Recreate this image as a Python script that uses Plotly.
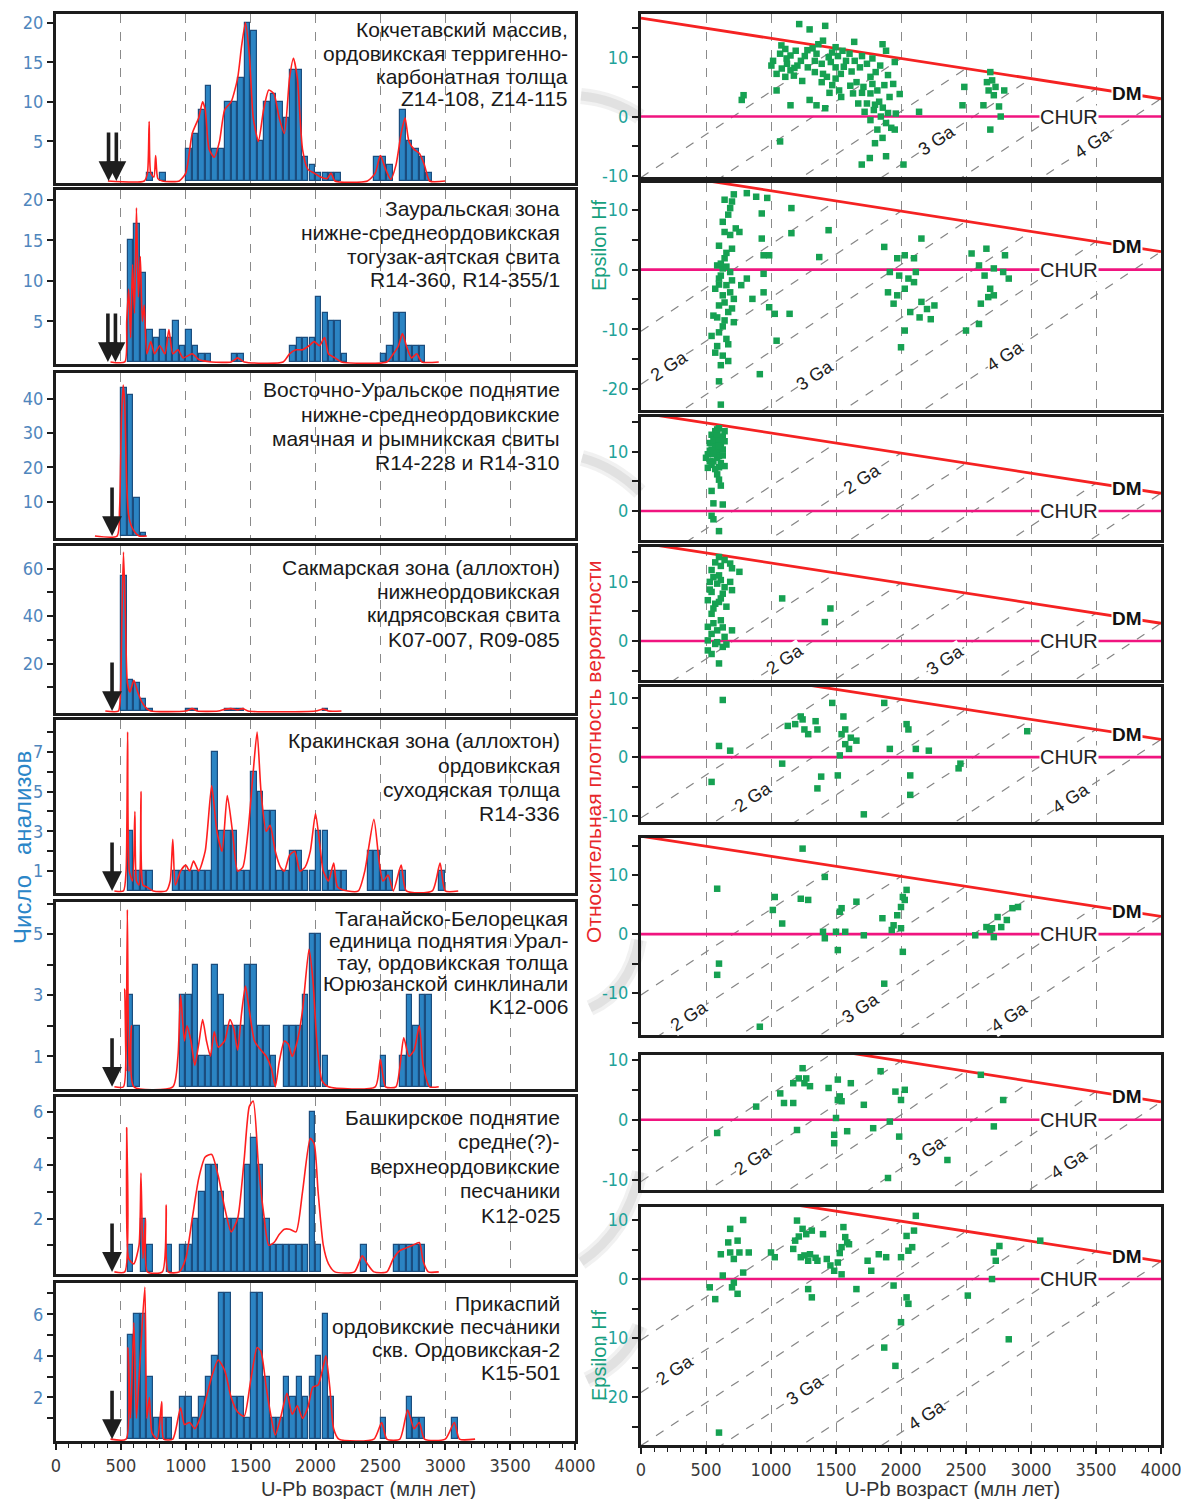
import plotly.graph_objects as go

W, H = 1181, 1499

# ---------------- U-Pb histograms (50 Ma bins) and probability-density curves ----------------
kok_bins = [700, 800, 1000, 1050, 1100, 1150, 1200, 1250, 1300, 1350, 1400, 1450, 1500, 1550, 1600, 1650,
            1700, 1750, 1800, 1850, 1900, 1950, 2000, 2050, 2100, 2150, 2450, 2500, 2550, 2650, 2700, 2750,
            2800, 2850]
kok_counts = [1, 1, 4, 6, 9, 12, 4, 4, 10, 10, 13, 20, 19, 5, 10, 11, 10, 8, 14, 14, 3, 2, 1, 1, 1, 1,
              3, 3, 2, 9, 5, 4, 3, 1]
kok_pdp_age = [400, 680, 705, 718, 730, 755, 768, 785, 820, 950, 1000, 1050, 1100, 1130, 1150, 1180, 1220,
               1260, 1300, 1350, 1400, 1430, 1460, 1490, 1520, 1560, 1600, 1640, 1680, 1720, 1760, 1800,
               1830, 1860, 1900, 1940, 1990, 2040, 2090, 2120, 2150, 2400, 2460, 2500, 2540, 2580, 2620,
               2660, 2690, 2720, 2760, 2800, 2840, 2880, 3000]
kok_pdp = [0, 0, 1, 7.5, 1, 0.5, 3.2, 0.3, 0, 0, 1, 6, 8, 10, 9, 4, 3, 5, 9, 10, 13, 17, 20, 16, 8, 5, 9,
           11.5, 11, 8, 6, 13, 15.5, 13, 4, 1.5, 1, 0.5, 0.3, 1, 0, 0, 1, 3.2, 1.5, 0.2, 2, 6, 8, 5, 4,
           3.5, 2, 0, 0]

zaur_bins = [550, 600, 650, 700, 750, 800, 850, 900, 950, 1000, 1050, 1100, 1150, 1350, 1400, 1800, 1850,
             1900, 1950, 2000, 2050, 2100, 2150, 2200, 2500, 2550, 2600, 2650, 2700, 2750, 2800]
zaur_counts = [15, 17, 11, 4, 3, 4, 3, 5, 2, 4, 2, 1, 1, 1, 1, 2, 3, 3, 3, 8, 6, 5, 5, 1, 1, 2, 6, 6, 2,
               2, 2]
zaur_pdp_age = [420, 530, 545, 560, 575, 590, 605, 620, 635, 650, 665, 680, 700, 730, 760, 800, 840, 870,
                900, 940, 980, 1050, 1100, 1200, 1350, 1400, 1450, 1750, 1800, 1850, 1900, 1950, 1990,
                2030, 2070, 2100, 2150, 2200, 2550, 2600, 2640, 2670, 2700, 2740, 2780, 2820, 2950]
zaur_pdp = [0, 0, 5, 9, 3, 12, 6, 19, 8, 13, 5, 7, 1, 2.5, 1, 2, 1, 4, 1, 1.5, 0.5, 1, 0.3, 0, 0, 0.5, 0,
            0, 1, 1.5, 1.5, 2, 2.5, 2, 3, 1, 0.5, 0, 0, 1, 2, 3.5, 2, 0.5, 1, 0, 0]

vost_bins = [500, 550, 600, 650]
vost_counts = [43, 41, 11, 1]
vost_pdp_age = [300, 470, 490, 505, 518, 530, 545, 560, 580, 610, 640, 700]
vost_pdp = [0, 0, 8, 35, 44, 38, 15, 6, 3, 1, 0, 0]

sakm_bins = [500, 550, 600, 650, 700, 1000, 1050, 1300, 1350, 1400, 2050]
sakm_counts = [57, 13, 12, 5, 1, 1, 1, 1, 1, 1, 1]
sakm_pdp_age = [380, 480, 495, 508, 520, 535, 550, 570, 600, 630, 660, 700, 730, 1000, 1050, 1090, 1250,
                1300, 1350, 1400, 1440, 1480, 2000, 2060, 2100, 2200]
sakm_pdp = [0, 0, 5, 40, 67, 40, 12, 8, 13, 8, 4, 1, 0, 0, 1, 0, 0, 0.7, 1, 0.5, 1, 0, 0, 0.8, 0, 0]

krak_bins = [550, 600, 650, 700, 900, 950, 1000, 1050, 1100, 1150, 1200, 1250, 1300, 1350, 1400, 1450,
             1500, 1550, 1600, 1650, 1700, 1750, 1800, 1850, 1900, 1950, 2000, 2050, 2100, 2150, 2200,
             2400, 2450, 2500, 2550, 2650, 2950]
krak_counts = [3, 1, 1, 1, 1, 1, 1, 1, 1, 1, 7, 3, 3, 3, 1, 1, 6, 5, 4, 4, 1, 1, 2, 2, 1, 1, 3, 3, 1, 1,
               1, 2, 2, 1, 1, 1, 1]
krak_pdp_age = [450, 520, 540, 552, 565, 590, 608, 620, 640, 655, 670, 700, 750, 850, 880, 900, 920, 960,
                1000, 1030, 1060, 1100, 1150, 1200, 1240, 1280, 1320, 1360, 1400, 1440, 1480, 1520, 1550,
                1580, 1620, 1650, 1690, 1730, 1760, 1800, 1840, 1880, 1920, 1960, 2000, 2030, 2060, 2100,
                2140, 2170, 2250, 2330, 2380, 2450, 2490, 2520, 2560, 2600, 2660, 2700, 2900, 2960, 3000,
                3100]
krak_pdp = [0, 0, 1, 8, 1, 0.5, 4, 0.5, 0.3, 5, 0.3, 0.2, 0, 0, 0.5, 2.6, 0.3, 1, 1.3, 1, 1.5, 1, 2, 5.3,
            3, 2, 4.8, 3, 1, 1.2, 3, 6, 8, 5, 3, 3.3, 2, 1.2, 1, 1.8, 2, 1, 1.2, 2, 3.9, 2.5, 1, 0.5, 1.4,
            0.2, 0, 0, 1, 3.6, 1.5, 0.5, 0.8, 0, 1.3, 0, 0, 1.4, 0, 0]

tag_bins = [550, 600, 950, 1000, 1050, 1100, 1150, 1200, 1250, 1300, 1350, 1400, 1450, 1500, 1550, 1600,
            1650, 1750, 1800, 1850, 1900, 1950, 2000, 2050, 2500, 2650, 2700, 2750, 2800, 2850]
tag_counts = [3, 2, 3, 3, 4, 1, 1, 4, 3, 2, 2, 2, 4, 4, 2, 2, 1, 2, 2, 2, 3, 5, 5, 1, 1, 1, 3, 2, 3, 3]
tag_pdp_age = [450, 520, 530, 540, 550, 562, 580, 600, 900, 940, 960, 990, 1010, 1040, 1070, 1100, 1130,
               1160, 1190, 1220, 1250, 1300, 1340, 1370, 1400, 1430, 1460, 1490, 1530, 1580, 1620, 1660,
               1690, 1720, 1760, 1790, 1820, 1860, 1900, 1950, 1980, 2010, 2050, 2100, 2460, 2500, 2540,
               2620, 2680, 2720, 2760, 2800, 2830, 2880, 2950]
tag_pdp = [0, 0, 3.2, 0.5, 5.8, 0.5, 2, 0, 0, 1, 3, 1.5, 2, 1.5, 0.7, 1.4, 2.2, 1.5, 1, 1.8, 1.3, 1.5,
           2.2, 1.9, 1.2, 2.4, 3.3, 2.5, 1.5, 1.2, 1, 0.6, 0, 0.8, 1.5, 1.4, 1, 1.5, 2.5, 4.5, 3.5, 1.5,
           0.2, 0, 0, 0.9, 0, 0, 1.6, 1, 1.2, 2, 0.7, 0, 0]

bash_bins = [550, 650, 700, 850, 950, 1000, 1050, 1100, 1150, 1200, 1250, 1300, 1350, 1400, 1450, 1500,
             1550, 1600, 1650, 1700, 1750, 1800, 1850, 1900, 1950, 2000, 2350, 2600, 2650, 2700, 2750, 2800]
bash_counts = [1, 2, 1, 1, 1, 1, 2, 3, 4, 4, 3, 2, 2, 2, 4, 5, 4, 2, 1, 1, 1, 1, 1, 1, 6, 1, 1, 1, 1, 1,
               1, 1]
bash_pdp_age = [450, 530, 545, 560, 600, 640, 655, 670, 690, 705, 820, 850, 865, 950, 1000, 1050, 1100,
                1150, 1200, 1250, 1300, 1350, 1400, 1450, 1490, 1520, 1560, 1600, 1640, 1680, 1720, 1760,
                1800, 1850, 1900, 1960, 1990, 2020, 2060, 2100, 2150, 2300, 2360, 2400, 2450, 2550, 2600,
                2650, 2700, 2750, 2800, 2830, 2870, 2950]
bash_pdp = [0, 0, 5.4, 0.5, 0.3, 1, 3.7, 0.5, 2, 0, 0, 2.5, 0, 0, 0.5, 2, 3.5, 4.3, 4.4, 3.6, 2.4, 1.5,
            2, 4.2, 6.2, 6.4, 4, 2.2, 1, 1.1, 1.4, 1.6, 1.6, 1.5, 3, 5, 4.8, 3, 1, 0.3, 0, 0, 0.6, 0.3, 0,
            0, 0.5, 0.8, 0.9, 1, 1.1, 0.4, 0, 0]

casp_bins = [550, 600, 650, 700, 750, 800, 850, 950, 1000, 1050, 1100, 1150, 1200, 1250, 1300, 1350, 1400,
             1450, 1500, 1550, 1600, 1650, 1700, 1750, 1800, 1850, 1900, 1950, 2000, 2050, 2100, 2500,
             2700, 2750, 2800, 3050]
casp_counts = [5, 6, 6, 3, 1, 1, 1, 2, 2, 1, 2, 3, 4, 7, 7, 2, 2, 1, 7, 7, 3, 1, 1, 3, 2, 3, 2, 3, 4, 6,
               2, 1, 2, 1, 1, 1]
casp_pdp_age = [420, 540, 555, 575, 600, 620, 650, 685, 700, 720, 740, 780, 815, 830, 900, 960, 990, 1030,
                1070, 1110, 1150, 1200, 1250, 1300, 1350, 1400, 1450, 1500, 1550, 1580, 1620, 1660, 1690,
                1730, 1780, 1820, 1860, 1900, 1940, 1980, 2020, 2060, 2080, 2110, 2140, 2180, 2450, 2510,
                2550, 2650, 2710, 2760, 2800, 2840, 3000, 3070, 3110, 3230]
casp_pdp = [0, 0, 4.4, 1, 5.6, 1, 4, 7.3, 1, 2, 0.3, 0, 1.8, 0, 0, 1.5, 0.7, 0.8, 0.5, 1, 1.8, 3, 3.8,
            3.3, 2, 1.3, 1.1, 2.8, 4.4, 4.2, 2.5, 1, 0.2, 1, 2.2, 1.2, 1.6, 1, 1.5, 2.5, 2.6, 3.5, 4, 2.5,
            0.5, 0, 0, 0.8, 0, 0, 1.4, 0.5, 0.8, 0, 0, 0.8, 0, 0]

# depositional-age arrows (Ma)
kok_arrows = [405, 465]
zaur_arrows = [400, 458]
single_arrow = [432]

# ---------------- Lu-Hf: (U-Pb age, epsilon Hf(t)) ----------------
kok_hf = [(1217, 15.6), (1297, 14.7), (1417, 15.3), (789, 3.6), (775, 2.8), (1043, 4.4), (1070, -4.2),
          (1150, 1.9), (1297, 2.8), (1350, 1.9), (1417, 1.4), (1016, 9.4), (1070, 10.6), (1110, 11.4),
          (1150, 10.3), (1190, 11.1), (1123, 8.9), (1083, 8.1), (1043, 7.2), (1150, 7.8), (1203, 8.6),
          (1230, 9.4), (1176, 6.9), (1110, 6.7), (1003, 8.6), (1364, 12.2), (1497, 11.7), (1550, 11.1),
          (1337, 9.4), (1390, 8.9), (1444, 10), (1497, 8.3), (1337, 7.5), (1430, 6.7), (1471, 5.3),
          (1524, 4.4), (1390, 5.8), (1497, 6.4), (1577, 9.4), (1283, 8.3), (1350, 10.6), (1470, 10.8),
          (1537, 7.2), (1604, 10.6), (1644, 9.4), (1684, 8.3), (1738, 8.9), (1765, 6.7), (1805, 7.5),
          (1858, 12.2), (1885, 11.1), (1952, 9.2), (1658, 5.8), (1711, 5), (1765, 3.9), (1818, 4.4),
          (1872, 5.3), (1738, 2.2), (1791, 1.1), (1845, 0), (1885, -1.1), (1765, -0.6), (1818, -2.2),
          (1925, -1.9), (1858, -3.6), (1952, -2.2), (1885, -6.7), (1698, -8.1), (2019, -8.1),
          (1631, 3.9), (1671, 2.2), (1912, 3.3), (1832, 2.5), (2139, 0.8), (1260, 10.2), (1320, 11.5),
          (1400, 12.8), (1460, 9.2), (1515, 10.2), (1560, 8.4), (1620, 7.6), (1700, 10.2), (1780, 9.8),
          (1840, 8.6), (1900, 7), (1780, 5.5), (1700, 4), (1860, 1.5), (1800, -4.5), (1760, -7),
          (1080, 12), (1120, 9.8), (1180, 8.2), (1240, 6), (1280, 11.2), (1400, 7.2), (1450, 4),
          (1540, 3.3), (1610, 5.2), (1940, 5.5), (1990, 3.8), (1900, 0.6), (1720, 0.8), (1800, 2),
          (1960, 0.5), (1640, 12.6), (2487, 5), (2473, 1.9), (2687, 7.5), (2701, 6.1), (2674, 4.4),
          (2727, 5), (2794, 4.4), (2634, 1.9), (2754, 1.7), (2767, 0), (2687, -2.2), (2661, 5.8),
          (2714, 3.6)]

zaur_hf = [(643, 11.7), (700, 11.4), (671, 9.2), (629, 8), (643, 6.3), (686, 5.8), (729, 6.9), (757, 6.3),
           (700, 3.5), (643, 1.9), (586, 0.7), (629, 0.2), (686, -0.4), (600, -1.5), (657, -2.6),
           (571, -3.2), (629, -4.3), (686, -3.8), (600, -6), (671, -7.1), (643, -8.5), (714, -8.8),
           (600, -10.5), (657, -11.6), (586, -12.8), (629, -14.4), (671, -15.3), (600, -18.7),
           (614, -22.6), (571, -13.9), (543, -11.1), (557, -7.7), (714, -4.9), (771, -2.6), (814, -1.5),
           (614, 1), (657, 0.5), (600, -2.5), (643, -5.5), (586, -8), (629, -9.5), (700, -6.5),
           (671, -12.5), (614, -16), (657, 2.8), (600, 4), (686, 10.3), (714, 12.6), (614, -1),
           (700, -1.8), (814, 12.8), (886, 12.2), (971, 12), (929, 9.4), (1157, 10.3), (929, 5.2),
           (1157, 6.1), (943, 2.4), (943, -0.7), (857, -4.9), (943, -3.8), (986, -6.3), (1029, -7.4),
           (1143, -7.4), (1043, -11.9), (914, -17.5), (986, 2.4), (1443, 6.6), (1371, 2.1), (1871, 3.8),
           (1971, 1.9), (2029, 2.4), (2100, 1.9), (2157, 5.2), (1914, -0.4), (1986, -1), (2057, -1.5),
           (2114, -0.4), (1900, -3.8), (1971, -4.3), (2029, -3.2), (2100, -2.1), (1943, -5.7),
           (2157, -5.4), (2200, -6.6), (2257, -6), (2143, -8), (2229, -8.3), (2029, -10.2), (2000, -13),
           (2071, -7.1), (2543, 2.7), (2657, 3.5), (2800, 2.4), (2600, 0.7), (2643, -1), (2714, 0.2),
           (2786, -0.4), (2829, -1.5), (2686, -3.2), (2671, -4.6), (2614, -5.7), (2600, -9.1),
           (2500, -10.2), (2714, -4.3)]

vost_hf = [(600, 14), (543, 12.9), (586, 12.4), (629, 12.6), (529, 11.5), (571, 11.2), (614, 11.5),
           (543, 10.4), (586, 10.1), (629, 10.4), (514, 9.6), (600, 9.3), (557, 8.4), (614, 8.1),
           (514, 7.3), (643, 7.6), (586, 6.2), (543, 3.4), (629, 1.1), (543, -0.8), (557, -1.4),
           (600, -3.4), (571, 13.5), (643, 13.5), (529, 8.4), (600, 5.3), (557, 12), (600, 12.2),
           (571, 10.8), (614, 10.9), (529, 10.2), (586, 9), (629, 9.4), (557, 9.6), (600, 11), (643, 11.8),
           (586, 13), (543, 7.8), (600, 7.4), (571, 7.1), (614, 4.3), (557, 1.3), (586, 13.8), (500, 9)]

sakm_hf = [(600, 14.2), (643, 13.7), (686, 13.1), (757, 11.7), (543, 12), (600, 11.1), (529, 10),
           (586, 9.7), (686, 10), (543, 8.3), (629, 8), (700, 8.6), (514, 6.9), (571, 6.3), (657, 5.8),
           (543, 4.6), (614, 3.5), (514, 2.4), (586, 1.8), (700, 1.8), (514, 0.1), (571, -0.5),
           (629, -1), (514, -1.6), (600, -3.8), (543, 1.2), (643, 0.7), (557, 5.5), (614, 7.2),
           (700, 12.3), (1086, 7.2), (1457, 5.5), (1414, 3.2), (571, 13.3), (614, 12.7), (557, 10.8),
           (643, 9.1), (529, 8.7), (600, 6.6), (557, 3), (629, 2.3), (586, -0.2), (657, -0.6),
           (543, -2.2), (614, 10.3)]

krak_hf = [(629, 9.7), (600, 1.9), (686, 1.1), (543, -4.2), (1129, 5.3), (1186, 5.6), (1243, 6.4),
           (1257, 4.7), (1343, 6.1), (1357, 4.7), (1286, 3.9), (1471, 9.2), (1557, 6.9), (1571, 4.7),
           (1543, 3.9), (1614, 3.3), (1657, 2.8), (1571, 2.2), (1529, 0.3), (1086, -1.1), (1386, -3.3),
           (1514, -3.1), (1357, -5.3), (1714, -9.7), (1871, 9.2), (2043, 5.6), (2057, 4.7), (1914, 1.4),
           (2114, 1.4), (2214, 1.1), (2071, -3.1), (2071, -6.4), (2457, -1.1), (2443, -1.9), (2971, 4.4),
           (1229, 6.9), (1600, 1.4)]

tag_hf = [(1243, 14.5), (586, 7.7), (600, -5), (586, -6.9), (914, -15.7), (1029, 6.3), (1014, 4.1),
          (1086, 1.8), (1229, 6), (1286, 5.8), (1414, 9.7), (1529, 3.8), (1543, 4.4), (1657, 5.5),
          (1400, 0.4), (1414, -0.7), (1500, 0.4), (1571, 0.4), (1514, -2.7), (1714, -0.2), (1857, 2.7),
          (1943, 1.5), (1971, 3.2), (2000, 4.6), (2014, 6.3), (2043, 7.5), (2029, 5.8), (2000, 1),
          (1929, 0.7), (2014, -3), (1871, -8.4), (2571, -0.2), (2657, 1.2), (2700, 1), (2743, 2.9),
          (2714, -0.5), (2771, 1.2), (2814, 2.4), (2857, 4.4), (2900, 4.6), (2686, 0.7)]

bash_hf = [(586, -2.2), (886, 2.2), (1071, 4.4), (1100, 2.8), (1171, 2.8), (1171, 6.1), (1214, 6.9),
           (1243, 8.6), (1257, 6.1), (1300, 5.6), (1200, -1.7), (1443, 5.3), (1514, 6.7), (1529, 3.9),
           (1543, 3.1), (1500, 0.3), (1486, -2.5), (1486, -3.9), (1586, -1.9), (1614, 6.1), (1714, 2.5),
           (1786, -1.4), (1843, 8.1), (1914, -0.3), (1957, 4.7), (2000, 3.3), (2029, 5), (1986, -2.8),
           (2357, -6.7), (1900, -9.7), (2614, 7.5), (2786, 3.3), (2714, -1.1), (1514, 3.3), (1271, 6.9)]

casp_hf = [(786, 10), (686, 8.5), (743, 6.5), (671, 6.2), (614, 4.2), (686, 4.5), (757, 4.5), (829, 4.5),
           (714, 3.4), (529, -1.4), (571, -3.4), (629, 0.6), (700, -1.4), (743, -2.5), (714, -0.6),
           (786, 1.1), (1000, 4.5), (1029, 3.7), (1171, 5.1), (1200, 9.9), (1243, 8.5), (1271, 7.6),
           (1314, 8.2), (1229, 3.7), (1286, 3.1), (1357, 3.1), (1429, 3.4), (1457, 2.3), (1514, 2.8),
           (1543, 5.4), (1571, 7.1), (1557, 8.8), (1600, 5.9), (1486, 1.4), (1543, 0.8), (1286, -1.7),
           (1314, -3.1), (1186, 6.5), (1400, 7.6), (1657, -1.7), (1743, 3.1), (1771, 1.4), (1829, 4.2),
           (1886, 3.7), (1943, -1.1), (2000, 3.7), (2000, -7.3), (2057, -4.2), (2043, -3.1),
           (1871, -11.6), (1957, -14.7), (2043, 7.3), (2086, 5.4), (2114, 10.7), (2057, 4.8), (2100, 8.2),
           (2514, -2.8), (2700, 0), (2714, 4.5), (2757, 5.6), (2729, 3.1), (2829, -10.2), (3071, 6.5),
           (600, -26), (1257, 4), (1300, 4.2), (1343, 3.6), (1214, 7.2), (1586, 6.2), (1529, 4.4)]

# ---------------- reference lines ----------------
DM_AGE = [0, 4000]
DM_EPS = [16.6, 3.0]
CHUR_EPS = 0
GA_LINE_T = [1500, 2000, 2500, 3000, 3500, 4000]        # model ages of the crustal evolution lines
GA_LINE_EPS_T = [11.5, 9.8, 8.1, 6.4, 4.7, 3.0]          # epsilon at the model age (on DM)
GA_LINE_EPS_0 = [-10.3, -19.2, -28.2, -37.1, -46.1, -55.0]  # epsilon projected to present day

left_titles = [
    ["Кокчетавский массив,", "ордовикская терригенно-", "карбонатная толща", "Z14-108, Z14-115"],
    ["Зауральская зона", "нижне-среднеордовикская", "тогузак-аятская свита", "R14-360, R14-355/1"],
    ["Восточно-Уральское поднятие", "нижне-среднеордовикские", "маячная и рымникская свиты",
     "R14-228 и R14-310"],
    ["Сакмарская зона (аллохтон)", "нижнеордовикская", "кидрясовская свита", "K07-007, R09-085"],
    ["Кракинская зона (аллохтон)", "ордовикская", "суходяская толща", "R14-336"],
    ["Таганайско-Белорецкая", "единица поднятия Урал-", "тау, ордовикская толща", "Юрюзанской синклинали",
     "K12-006"],
    ["Башкирское поднятие", "средне(?)-", "верхнеордовикские", "песчаники", "K12-025"],
    ["Прикаспий", "ордовикские песчаники", "скв. Ордовикская-2", "K15-501"],
]

hist_sets = [
    (kok_bins, kok_counts, kok_pdp_age, kok_pdp, kok_arrows),
    (zaur_bins, zaur_counts, zaur_pdp_age, zaur_pdp, zaur_arrows),
    (vost_bins, vost_counts, vost_pdp_age, vost_pdp, single_arrow),
    (sakm_bins, sakm_counts, sakm_pdp_age, sakm_pdp, single_arrow),
    (krak_bins, krak_counts, krak_pdp_age, krak_pdp, single_arrow),
    (tag_bins, tag_counts, tag_pdp_age, tag_pdp, single_arrow),
    (bash_bins, bash_counts, bash_pdp_age, bash_pdp, single_arrow),
    (casp_bins, casp_counts, casp_pdp_age, casp_pdp, single_arrow),
]
hf_sets = [kok_hf, zaur_hf, vost_hf, sakm_hf, krak_hf, tag_hf, bash_hf, casp_hf]

left_yrange = [21.1, 21.2, 47.5, 69.6, 8.6, 6.05, 6.55, 7.5]
left_ticks = [
    ([5, 10, 15, 20], ["5", "10", "15", "20"]),
    ([5, 10, 15, 20], ["5", "10", "15", "20"]),
    ([10, 20, 30, 40], ["10", "20", "30", "40"]),
    ([10, 20, 30, 40, 50, 60], ["", "20", "", "40", "", "60"]),
    ([1, 2, 3, 4, 5, 6, 7, 8], ["1", "", "3", "", "5", "", "7", ""]),
    ([1, 2, 3, 4, 5, 6], ["1", "", "3", "", "5", ""]),
    ([1, 2, 3, 4, 5, 6], ["", "2", "", "4", "", "6"]),
    ([1, 2, 3, 4, 5, 6, 7], ["", "2", "", "4", "", "6", ""]),
]
right_yrange = [(-10.2, 17.3), (-23.5, 14.5), (-4.9, 15.9), (-6.6, 15.9), (-11, 11.9), (-17.1, 16.3),
                (-11.7, 10.8), (-28.1, 12.2)]
# labelled model-age lines in each epsilon panel: (label, line model age, age of label centre)
ga_labels = [
    [("3 Ga", 3000, 2280), ("4 Ga", 4000, 3480)],
    [("2 Ga", 2000, 214), ("3 Ga", 3000, 1340), ("4 Ga", 4000, 2800)],
    [("2 Ga", 2000, 1700)],
    [("2 Ga", 2000, 1110), ("3 Ga", 3000, 2340)],
    [("2 Ga", 2000, 860), ("4 Ga", 4000, 3310)],
    [("2 Ga", 2000, 370), ("3 Ga", 3000, 1690), ("4 Ga", 4000, 2830)],
    [("2 Ga", 2000, 860), ("3 Ga", 3000, 2200), ("4 Ga", 4000, 3290)],
    [("2 Ga", 2000, 260), ("3 Ga", 3000, 1260), ("4 Ga", 4000, 2200)],
]

# ---------------- geometry & styles ----------------
LEFT_COLS = (56, 575)
RIGHT_COLS = (641, 1161)
LEFT_ROWS = [(14, 183), (190, 364), (373, 538), (546, 713), (720, 893), (902, 1089), (1097, 1274),
             (1283, 1441)]
RIGHT_ROWS = [(14, 177), (183, 410), (417, 540), (547, 680), (687, 822), (838, 1035), (1055, 1190),
              (1207, 1445)]
TITLE_POS = [(570, 30, 23), (562, 208, 24), (562, 390, 24), (562, 567, 24), (562, 741, 24),
             (570, 918, 22), (562, 1117, 24.5), (562, 1303, 23)]
# soft grey connectors drawn between the two columns: (start, control, end) in pixels
CONNECTORS = [((581, 96), (614, 99), (640, 117)),
              ((582, 458), (613, 466), (640, 492)),
              ((590, 1008), (630, 990), (639, 940)),
              ((581, 1262), (626, 1232), (640, 1172)),
              ((587, 1380), (626, 1362), (640, 1326))]

FONT = "Liberation Sans, Arial, sans-serif"
NARROW = "Liberation Sans Narrow, Arial Narrow, DejaVu Sans Condensed, sans-serif"
FRAME = "#1c1c1c"
GRID = "#8a8a8a"
BAR_FILL = "#2b84c3"
BAR_EDGE = "#1b4d7e"
PDP_RED = "#ff1f1f"
DM_RED = "#f52222"
CHUR_PINK = "#f0147f"
HF_GREEN = "#16a152"
LEFT_TICK = "#4f86bd"
RIGHT_TICK = "#1fa39a"


def px_x(v):
    return v / W


def px_y(v):
    return 1 - v / H


fig = go.Figure()
layout = dict(width=W, height=H, margin=dict(l=0, r=0, t=0, b=0, autoexpand=False),
              paper_bgcolor="white", plot_bgcolor="white", showlegend=False, bargap=0)
annotations = []
shapes = []


def paper_text(x, y, text, size, color, angle=0, xanchor="center", family=FONT):
    return dict(x=px_x(x), y=px_y(y), xref="paper", yref="paper", text=text, showarrow=False,
                xanchor=xanchor, yanchor="middle", textangle=angle,
                font=dict(family=family, size=size, color=color))


def axis_names(n):
    s = "" if n == 1 else str(n)
    return "x" + s, "y" + s, "xaxis" + s, "yaxis" + s


def x_axis(cols, ya, bottom):
    ax = dict(domain=[px_x(cols[0]), px_x(cols[1])], range=[0, 4000], anchor=ya, automargin=False,
              showline=True, mirror=True, linewidth=3, linecolor=FRAME, zeroline=False,
              showgrid=True, gridcolor=GRID, gridwidth=1, griddash="dash",
              tickmode="array", tickvals=list(range(0, 4001, 500)),
              showticklabels=bottom, ticks="outside" if bottom else "",
              ticklen=6, tickwidth=1.5, tickcolor=FRAME, ticklabeloverflow="allow",
              tickfont=dict(family=NARROW, size=18, color="#3a3a3a"))
    if bottom:
        ax["minor"] = dict(dtick=100, tick0=0, ticks="outside", ticklen=4, tickwidth=1.2,
                           tickcolor=FRAME, showgrid=False)
    return ax


# soft connectors: a wide faint stroke under a narrower, slightly darker one
for (x0, y0), (cx, cy), (x1, y1) in CONNECTORS:
    path = "M {:.5f},{:.5f} Q {:.5f},{:.5f} {:.5f},{:.5f}".format(
        px_x(x0), px_y(y0), px_x(cx), px_y(cy), px_x(x1), px_y(y1))
    for width, alpha in ((16, 0.12), (9, 0.16)):
        shapes.append(dict(type="path", path=path, xref="paper", yref="paper", layer="below",
                           line=dict(color="rgba(140,140,140,{})".format(alpha), width=width)))

# ---------- left column: histograms ----------
for i, (bins, counts, pdp_age, pdp, arrows) in enumerate(hist_sets):
    n = i + 1
    xa, ya, xk, yk = axis_names(n)
    rows = LEFT_ROWS[i]
    layout[xk] = x_axis(LEFT_COLS, ya, i == 7)
    ymax = left_yrange[i]
    tv, tt = left_ticks[i]
    layout[yk] = dict(domain=[px_y(rows[1]), px_y(rows[0])], range=[-0.012 * ymax, ymax], anchor=xa,
                      automargin=False, showline=True, mirror=True, linewidth=3, linecolor=FRAME,
                      zeroline=False, showgrid=False, tickmode="array", tickvals=tv, ticktext=tt,
                      ticks="outside", ticklen=6, tickwidth=1.5, tickcolor=FRAME,
                      tickfont=dict(family=NARROW, size=18, color=LEFT_TICK))
    fig.add_trace(go.Bar(x=[b + 25 for b in bins], y=counts, width=42, xaxis=xa, yaxis=ya,
                         marker=dict(color=BAR_FILL, line=dict(color=BAR_EDGE, width=1.2)),
                         hoverinfo="skip"))
    fig.add_trace(go.Scatter(x=pdp_age, y=pdp, mode="lines", xaxis=xa, yaxis=ya,
                             line=dict(color=PDP_RED, width=1.6, shape="spline", smoothing=0.6),
                             hoverinfo="skip"))
    for a in arrows:
        annotations.append(dict(x=a, y=0, xref=xa, yref=ya, ax=0, ay=-50, text="", showarrow=True,
                                arrowhead=2, arrowsize=1.1, arrowwidth=3.6, arrowcolor="#1e1e1e",
                                standoff=0))
    rx, y0, dy = TITLE_POS[i]
    for k, line in enumerate(left_titles[i]):
        annotations.append(paper_text(rx, y0 + k * dy, line, 21, "#1a1a1a", xanchor="right"))

# ---------- right column: epsilon Hf ----------
for i, pts in enumerate(hf_sets):
    n = 9 + i
    xa, ya, xk, yk = axis_names(n)
    rows = RIGHT_ROWS[i]
    layout[xk] = x_axis(RIGHT_COLS, ya, i == 7)
    lo, hi = right_yrange[i]
    tv = [v for v in range(-30, 20, 5) if lo <= v <= hi]
    tt = [str(v) if v % 10 == 0 else "" for v in tv]
    layout[yk] = dict(domain=[px_y(rows[1]), px_y(rows[0])], range=[lo, hi], anchor=xa,
                      automargin=False, showline=True, mirror=True, linewidth=3, linecolor=FRAME,
                      zeroline=False, showgrid=False, tickmode="array", tickvals=tv, ticktext=tt,
                      ticks="outside", ticklen=6, tickwidth=1.5, tickcolor=FRAME,
                      tickfont=dict(family=NARROW, size=18, color=RIGHT_TICK))
    for T, eT, e0 in zip(GA_LINE_T, GA_LINE_EPS_T, GA_LINE_EPS_0):
        fig.add_trace(go.Scatter(x=[0, T], y=[e0, eT], mode="lines", xaxis=xa, yaxis=ya,
                                 line=dict(color="#858585", width=1.2, dash="dash"), hoverinfo="skip"))
    fig.add_trace(go.Scatter(x=[0, 4000], y=[CHUR_EPS, CHUR_EPS], mode="lines", xaxis=xa, yaxis=ya,
                             line=dict(color=CHUR_PINK, width=2.6), hoverinfo="skip"))
    fig.add_trace(go.Scatter(x=DM_AGE, y=DM_EPS, mode="lines", xaxis=xa, yaxis=ya,
                             line=dict(color=DM_RED, width=2.8), hoverinfo="skip"))
    fig.add_trace(go.Scatter(x=[p[0] for p in pts], y=[p[1] for p in pts], mode="markers",
                             xaxis=xa, yaxis=ya, hoverinfo="skip",
                             marker=dict(symbol="square", size=6.5, color=HF_GREEN, line=dict(width=0))))
    for label, T, t in ga_labels[i]:
        k = GA_LINE_T.index(T)
        e = GA_LINE_EPS_0[k] + (GA_LINE_EPS_T[k] - GA_LINE_EPS_0[k]) * t / T
        annotations.append(dict(x=t, y=e, xref=xa, yref=ya, text=label, showarrow=False, textangle=-33.5,
                                bgcolor="white", borderpad=0,
                                font=dict(family=FONT, size=18, color="#222")))
    annotations.append(dict(x=3290, y=CHUR_EPS, xref=xa, yref=ya, text="CHUR", showarrow=False,
                            bgcolor="white", borderpad=0, font=dict(family=FONT, size=20, color="#222")))
    t_dm = 3740
    e_dm = DM_EPS[0] + (DM_EPS[1] - DM_EPS[0]) * t_dm / DM_AGE[1]
    annotations.append(dict(x=t_dm, y=e_dm, xref=xa, yref=ya, text="<b>DM</b>", showarrow=False,
                            bgcolor="white", borderpad=0, font=dict(family=FONT, size=19, color="#111")))

# ---------- axis titles ----------
annotations += [
    paper_text(368, 1489, "U-Pb возраст (млн лет)", 20, "#333"),
    paper_text(952, 1489, "U-Pb возраст (млн лет)", 20, "#333"),
    paper_text(22, 848, "Число   анализов", 24, "#2b86c8", angle=-90),
    paper_text(593, 752, "Относительная плотность вероятности", 21, "#e8262b", angle=-90),
    paper_text(599, 245, "Epsilon Hf", 20, "#17a07e", angle=-90),
    paper_text(599, 1355, "Epsilon Hf", 20, "#17a07e", angle=-90),
]

layout["annotations"] = annotations
layout["shapes"] = shapes
fig.update_layout(**layout)
fig.write_html("out.html")
